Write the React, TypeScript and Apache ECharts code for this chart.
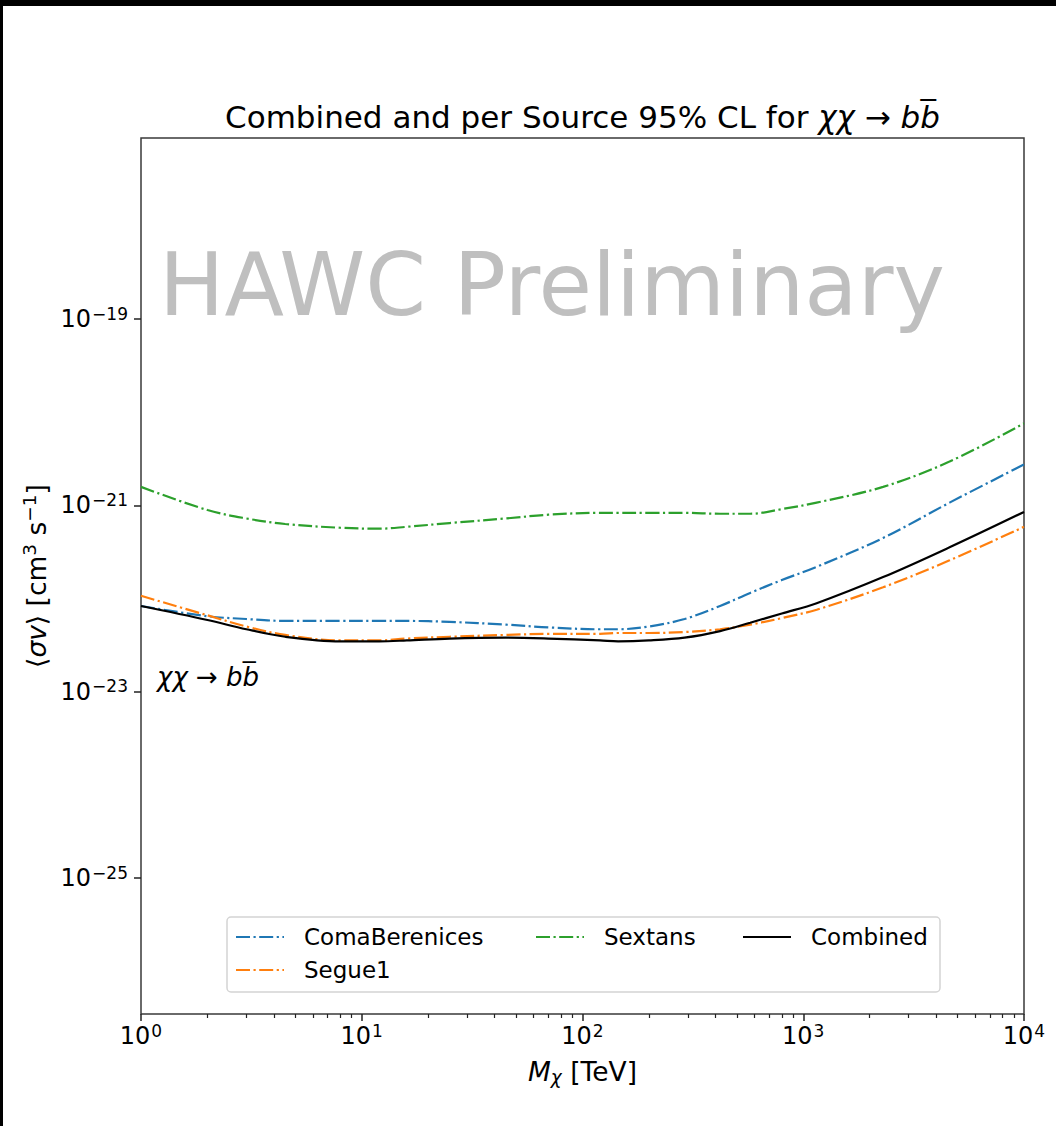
import React, { useEffect, useRef } from "react";
import * as echarts from "echarts";

// Dark-matter mass grid (TeV) and 95% CL upper limits on <σv> (cm^3 s^-1), χχ → bb̄ channel
const MASS_TEV = [1, 2, 3, 4.5, 8, 12, 16, 25, 45, 70, 120, 145, 200, 290, 420, 575, 800, 1150, 2300, 4600, 10000];

const COMA_BERENICES = [
  8.32e-23, 6.46e-23, 6.03e-23, 5.75e-23, 5.75e-23, 5.75e-23, 5.75e-23, 5.62e-23, 5.25e-23, 4.9e-23, 4.68e-23,
  4.68e-23, 5.01e-23, 6.03e-23, 8.32e-23, 1.15e-22, 1.58e-22, 2.19e-22, 4.47e-22, 1.07e-21, 2.75e-21,
];

const SEGUE1 = [
  1.07e-22, 6.61e-23, 5.01e-23, 4.07e-23, 3.55e-23, 3.55e-23, 3.72e-23, 3.89e-23, 4.07e-23, 4.17e-23, 4.17e-23,
  4.27e-23, 4.27e-23, 4.37e-23, 4.68e-23, 5.25e-23, 6.17e-23, 7.59e-23, 1.32e-22, 2.57e-22, 5.89e-22,
];

const SEXTANS = [
  1.58e-21, 8.91e-22, 7.24e-22, 6.31e-22, 5.75e-22, 5.62e-22, 5.89e-22, 6.46e-22, 7.24e-22, 7.94e-22, 8.32e-22,
  8.32e-22, 8.32e-22, 8.32e-22, 8.13e-22, 8.13e-22, 9.12e-22, 1.07e-21, 1.58e-21, 2.95e-21, 7.59e-21,
];

const COMBINED = [
  8.32e-23, 5.89e-23, 4.68e-23, 3.89e-23, 3.47e-23, 3.47e-23, 3.55e-23, 3.72e-23, 3.8e-23, 3.72e-23, 3.55e-23,
  3.47e-23, 3.55e-23, 3.8e-23, 4.47e-23, 5.5e-23, 6.92e-23, 8.91e-23, 1.7e-22, 3.55e-22, 8.51e-22,
];

// Axis decades (log10 exponents)
const X_MAJOR_EXPONENTS = [0, 1, 2, 3, 4];
const X_MINOR_DECADES = [0, 1, 2, 3];
const MINOR_MULTIPLIERS = [2, 3, 4, 5, 6, 7, 8, 9];
const Y_LABEL_EXPONENTS = [-25, -23, -21, -19];
const X_EXP_RANGE = [0, 4];
const Y_EXP_RANGE = [-26.459, -17.057];

const FONT = "DejaVu Sans";
const DASH_DOT = [14, 3.5, 2.2, 3.5];

const SERIES_DEFS = [
  { name: "ComaBerenices", values: COMA_BERENICES, color: "#1f77b4", dash: true },
  { name: "Segue1", values: SEGUE1, color: "#ff7f0e", dash: true },
  { name: "Sextans", values: SEXTANS, color: "#2ca02c", dash: true },
  { name: "Combined", values: COMBINED, color: "#000000", dash: false },
];

const toLogPoints = (values: number[]) => MASS_TEV.map((m, i) => [Math.log10(m), Math.log10(values[i])]);

const tickRich = {
  b: { fontFamily: FONT, fontSize: 24, color: "#000", lineHeight: 28 },
  s: { fontFamily: FONT, fontSize: 17, color: "#000", lineHeight: 14, verticalAlign: "top", padding: [0, 0, 0, 1] },
};

const legendCommon = {
  orient: "horizontal",
  padding: 0,
  itemWidth: 48,
  itemHeight: 14,
  itemStyle: { opacity: 0 },
  textStyle: { fontFamily: FONT, fontSize: 23, color: "#000", lineHeight: 26, padding: [0, 0, 0, 15] },
};

export default function App() {
  const ref = useRef<HTMLDivElement>(null);

  useEffect(() => {
    if (!ref.current) return;
    const chart = echarts.init(ref.current, undefined, { renderer: "svg" });

    const minorTicks: number[] = [];
    X_MINOR_DECADES.forEach((d) => MINOR_MULTIPLIERS.forEach((m) => minorTicks.push(d + Math.log10(m))));

    const option: any = {
      animation: false,
      backgroundColor: "#ffffff",
      textStyle: { fontFamily: FONT },
      title: {
        text: "{r|Combined and per Source 95% CL for }{i|χχ}{r| → }{i|bb\u0305}",
        left: 582.5,
        top: 99,
        padding: 0,
        textAlign: "center",
        textStyle: {
          fontWeight: "normal",
          rich: {
            r: { fontFamily: FONT, fontSize: 31, fontWeight: "normal", color: "#000", lineHeight: 36 },
            i: { fontFamily: FONT, fontSize: 31, fontWeight: "normal", fontStyle: "italic", color: "#000", lineHeight: 36 },
          },
        },
      },
      grid: {
        left: 141,
        top: 138,
        width: 883,
        height: 876,
        show: true,
        borderColor: "#3a3a3a",
        borderWidth: 1.5,
        backgroundColor: "transparent",
      },
      xAxis: [
        {
          type: "value",
          min: X_EXP_RANGE[0],
          max: X_EXP_RANGE[1],
          interval: 1,
          axisLine: { show: false },
          splitLine: { show: false },
          axisTick: { show: true, length: 7, lineStyle: { color: "#222", width: 1.5 }, customValues: X_MAJOR_EXPONENTS },
          axisLabel: {
            margin: 8,
            customValues: X_MAJOR_EXPONENTS,
            formatter: (v: number) => `{b|10}{s|${Math.round(v)}}`,
            rich: tickRich,
          },
          name: "{i|M}{sub|χ}{r| [TeV]}",
          nameLocation: "middle",
          nameGap: 41,
          nameTextStyle: {
            rich: {
              i: { fontFamily: FONT, fontSize: 26.5, fontStyle: "italic", color: "#000", lineHeight: 32 },
              sub: { fontFamily: FONT, fontSize: 18.5, fontStyle: "italic", color: "#000", lineHeight: 16, verticalAlign: "bottom" },
              r: { fontFamily: FONT, fontSize: 26.5, color: "#000", lineHeight: 32 },
            },
          },
        },
        {
          type: "value",
          min: X_EXP_RANGE[0],
          max: X_EXP_RANGE[1],
          position: "bottom",
          axisLine: { show: false },
          splitLine: { show: false },
          axisLabel: { show: false },
          axisTick: { show: true, length: 4, lineStyle: { color: "#222", width: 1.2 }, customValues: minorTicks },
        },
      ],
      yAxis: {
        type: "value",
        min: Y_EXP_RANGE[0],
        max: Y_EXP_RANGE[1],
        axisLine: { show: false },
        splitLine: { show: false },
        axisTick: { show: true, length: 7, lineStyle: { color: "#222", width: 1.5 }, customValues: Y_LABEL_EXPONENTS },
        axisLabel: {
          margin: 13,
          customValues: Y_LABEL_EXPONENTS,
          formatter: (v: number) => `{b|10}{s|\u2212${Math.abs(Math.round(v))}}`,
          rich: tickRich,
        },
        name: "{r|⟨}{i|σv}{r|⟩ [cm}{s|3}{r| s}{s|\u22121}{r|]}",
        nameLocation: "middle",
        nameGap: 88,
        nameTextStyle: {
          rich: {
            r: { fontFamily: FONT, fontSize: 26.5, color: "#000", lineHeight: 32 },
            i: { fontFamily: FONT, fontSize: 26.5, fontStyle: "italic", color: "#000", lineHeight: 32 },
            s: { fontFamily: FONT, fontSize: 18.5, color: "#000", lineHeight: 16, verticalAlign: "top" },
          },
        },
      },
      legend: [
        { ...legendCommon, data: ["ComaBerenices"], left: 235, top: 924 },
        { ...legendCommon, data: ["Segue1"], left: 235, top: 957 },
        { ...legendCommon, data: ["Sextans"], left: 535, top: 924 },
        { ...legendCommon, data: ["Combined"], left: 742, top: 924 },
      ],
      graphic: [
        { type: "rect", left: 0, top: 0, shape: { width: 1056, height: 6 }, style: { fill: "#000" }, z: 100 },
        { type: "rect", left: 0, top: 0, shape: { width: 3, height: 1126 }, style: { fill: "#000" }, z: 100 },
        {
          type: "rect",
          x: 227,
          y: 917,
          shape: { x: 0, y: 0, width: 713, height: 75, r: 4 },
          style: { fill: "#ffffff", stroke: "#d4d4d4", lineWidth: 1.5 },
          z: 1,
        },
        {
          type: "text",
          x: 159,
          y: 241,
          style: { text: "HAWC Preliminary", fontFamily: FONT, fontSize: 87, fill: "#bfbfbf", verticalAlign: "top" },
          z: 0,
        },
        {
          type: "text",
          x: 157,
          y: 664,
          style: { text: "χχ → bb\u0305", fontFamily: FONT, fontSize: 26, fontStyle: "italic", fill: "#000", verticalAlign: "top" },
          z: 5,
        },
      ],
      series: SERIES_DEFS.map((s, idx) => ({
        name: s.name,
        type: "line",
        xAxisIndex: 0,
        yAxisIndex: 0,
        data: toLogPoints(s.values),
        showSymbol: false,
        symbol: "none",
        smooth: 0.35,
        z: 2 + idx,
        lineStyle: { color: s.color, width: 2.2, type: s.dash ? DASH_DOT : "solid" },
        itemStyle: { color: s.color },
      })),
    };

    chart.setOption(option);
    return () => chart.dispose();
  }, []);

  return (
    <div
      ref={ref}
      style={{ position: "absolute", left: 0, top: 0, width: 1056, height: 1126 }}
    />
  );
}
